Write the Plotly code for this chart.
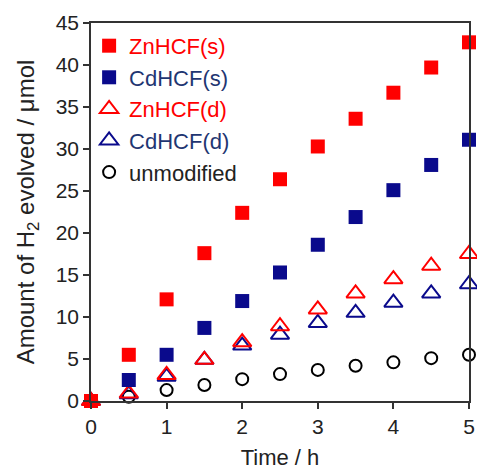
import plotly.graph_objects as go

time_h = [0, 0.5, 1, 1.5, 2, 2.5, 3, 3.5, 4, 4.5, 5]
znhcf_s = [0, 5.5, 12.1, 17.6, 22.4, 26.4, 30.3, 33.6, 36.7, 39.7, 42.7]
cdhcf_s = [0, 2.5, 5.5, 8.7, 11.9, 15.3, 18.6, 21.9, 25.1, 28.1, 31.1]
znhcf_d = [0, 0.9, 3.1, 4.9, 7.0, 8.9, 10.9, 12.8, 14.5, 16.1, 17.5]
cdhcf_d = [0, 0.8, 2.9, 4.9, 6.6, 7.9, 9.3, 10.5, 11.7, 12.8, 13.9]
unmodified = [0, 0.5, 1.3, 1.9, 2.6, 3.2, 3.7, 4.2, 4.6, 5.1, 5.5]

RED = "#ff0000"
NAVY = "#0a0a8c"
NAVY_TXT = "#1f3672"

fig = go.Figure()
fig.add_trace(go.Scatter(x=time_h, y=unmodified, mode="markers",
                         name="unmodified",
                         marker=dict(symbol="circle-open", size=12, color="black", line=dict(width=2))))
fig.add_trace(go.Scatter(x=time_h, y=cdhcf_d, mode="markers",
                         name=f"<span style='color:{NAVY_TXT}'>CdHCF(d)</span>",
                         marker=dict(symbol="triangle-up-open", size=16, color=NAVY, line=dict(width=2))))
fig.add_trace(go.Scatter(x=time_h, y=znhcf_d, mode="markers",
                         name=f"<span style='color:{RED}'>ZnHCF(d)</span>",
                         marker=dict(symbol="triangle-up-open", size=16, color=RED, line=dict(width=2))))
fig.add_trace(go.Scatter(x=time_h, y=cdhcf_s, mode="markers",
                         name=f"<span style='color:{NAVY_TXT}'>CdHCF(s)</span>",
                         marker=dict(symbol="square", size=14, color=NAVY)))
fig.add_trace(go.Scatter(x=time_h, y=znhcf_s, mode="markers",
                         name=f"<span style='color:{RED}'>ZnHCF(s)</span>",
                         marker=dict(symbol="square", size=14, color=RED)))

axis_common = dict(showline=True, linecolor="#333", linewidth=1.5, mirror=True,
                   ticks="outside", ticklen=6, tickwidth=1.5, tickcolor="#333",
                   showgrid=False, zeroline=False, automargin=False,
                   tickfont=dict(size=21, color="#222"))

fig.update_layout(
    width=477, height=471,
    margin=dict(l=91, r=8, t=23, b=70),
    plot_bgcolor="white", paper_bgcolor="white",
    font=dict(family="Arial, Liberation Sans, sans-serif", color="#222"),
    showlegend=True,
    legend=dict(x=-0.005, y=0.995, xanchor="left", yanchor="top",
                traceorder="reversed", bgcolor="rgba(0,0,0,0)",
                font=dict(size=22), itemwidth=30, tracegroupgap=0),
    xaxis=dict(range=[0, 5], tickvals=[0, 1, 2, 3, 4, 5],
               title=dict(text="Time / h", font=dict(size=22), standoff=13), **axis_common),
    yaxis=dict(range=[0, 45], tickvals=list(range(0, 50, 5)),
               title=dict(text="Amount of H<sub>2</sub> evolved / μmol", font=dict(size=24), standoff=14),
               **axis_common),
)
fig.update_traces(cliponaxis=False)

fig.write_html("out.html", config={"displayModeBar": False},
               post_script="document.body.style.margin='0px';document.body.style.overflow='hidden';")
